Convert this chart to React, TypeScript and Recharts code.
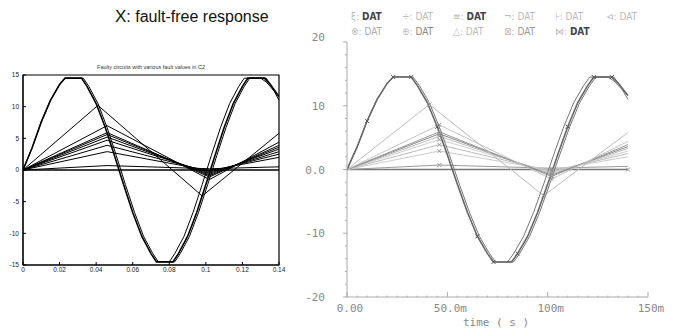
import { LineChart, Line, XAxis, YAxis, ReferenceArea } from 'recharts';

// fault-free response (clipped sine)
const freeTime = [0, 0.005, 0.01, 0.015, 0.02, 0.023, 0.032, 0.035, 0.04, 0.045, 0.05, 0.055, 0.06, 0.065, 0.07, 0.073, 0.082, 0.085, 0.09, 0.095, 0.1, 0.105, 0.11, 0.115, 0.12, 0.123, 0.132, 0.135, 0.14];
const freeValue = [0, 3.5, 7.6, 11.0, 13.5, 14.5, 14.5, 13.2, 10.5, 6.7, 2.3, -2.3, -6.7, -10.5, -13.2, -14.5, -14.5, -13.2, -10.5, -6.7, -2.3, 2.3, 6.7, 10.5, 13.2, 14.5, 14.5, 13.6, 11.6];

// near-identical faulty responses, slightly shifted
const shiftTime = [0, 0.005, 0.01, 0.015, 0.02, 0.023, 0.033, 0.036, 0.041, 0.046, 0.051, 0.056, 0.061, 0.066, 0.071, 0.074, 0.083, 0.086, 0.091, 0.096, 0.101, 0.106, 0.111, 0.116, 0.121, 0.124, 0.133, 0.136, 0.14];
const shiftValue = [0, 3.5, 7.6, 11.0, 13.5, 14.5, 14.5, 13.2, 10.5, 6.7, 2.3, -2.3, -6.7, -10.5, -13.2, -14.5, -14.5, -13.2, -10.5, -6.7, -2.3, 2.3, 6.7, 10.5, 13.2, 14.5, 14.5, 13.2, 11.0];
const earlyTime = [0.08, 0.083, 0.088, 0.093, 0.098, 0.103, 0.108, 0.113, 0.118, 0.121, 0.13, 0.133, 0.14];
const earlyValue = [-14.5, -13.2, -10.5, -6.7, -2.3, 2.3, 6.7, 10.5, 13.2, 14.5, 14.5, 13.9, 11.6];

// coarse faulty responses
const knotsA = [0, 0.041, 0.098, 0.14];
const knotsB = [0, 0.046, 0.102, 0.14];
const knotsC = [0, 0.14];
const fault1 = [0, 10.2, -4.1, 5.8];
const fault2 = [0, 7.0, -1.5, 4.4];
const fault3 = [0, 5.9, -1.1, 3.9];
const fault4 = [0, 5.6, -0.9, 3.6];
const fault5 = [0, 5.2, -0.7, 3.3];
const fault6 = [0, 4.7, -0.5, 2.9];
const fault7 = [0, 3.9, -0.3, 2.5];
const fault8 = [0, 2.9, -0.1, 2.0];
const fault9 = [0, 0.7, 0.2, 0.5];
const fault10 = [0, 0];

const xTicksL = [0, 0.02, 0.04, 0.06, 0.08, 0.1, 0.12, 0.14];
const yTicksL = [-15, -10, -5, 0, 5, 10, 15];
const xTicksR = [0, 0.005, 0.01, 0.015, 0.02, 0.025, 0.03, 0.035, 0.04, 0.045, 0.05, 0.055, 0.06, 0.065, 0.07, 0.075, 0.08, 0.085, 0.09, 0.095, 0.1, 0.105, 0.11, 0.115, 0.12, 0.125, 0.13, 0.135, 0.14, 0.145, 0.15];
const yTicksR = [-20, -18, -16, -14, -12, -10, -8, -6, -4, -2, 0, 2, 4, 6, 8, 10, 12, 14, 16, 18, 20];
const xLabelsR: Record<string, string> = { '0': '0.00', '0.05': '50.0m', '0.1': '100m', '0.15': '150m' };
const yLabelsR: Record<string, string> = { '20': '20', '10': '10', '0': '0.0', '-10': '-10', '-20': '-20' };

const legendRow1 = ['ξ', '÷', '≡', '¬', '⊦', '⊲'];
const legendRow2 = ['⊗', '⊕', '△', '⊠', '⋈'];
const legendShade1 = ['#444', '#bbb', '#444', '#bbb', '#bbb', '#bbb'];
const legendShade2 = ['#aaa', '#888', '#bbb', '#999', '#444'];

const toPoints = (t: number[], v: number[]) => t.map((x, i) => ({ x, y: v[i] }));

const series = [
  { id: 'free', data: toPoints(freeTime, freeValue), grey: '#666', w: 1.6 },
  { id: 'shift', data: toPoints(shiftTime, shiftValue), grey: '#777', w: 1 },
  { id: 'early', data: toPoints(earlyTime, earlyValue), grey: '#777', w: 1 },
  { id: 'f1', data: toPoints(knotsA, fault1), grey: '#bbb', w: 1 },
  { id: 'f2', data: toPoints(knotsB, fault2), grey: '#c4c4c4', w: 1 },
  { id: 'f3', data: toPoints(knotsB, fault3), grey: '#999', w: 1 },
  { id: 'f4', data: toPoints(knotsB, fault4), grey: '#888', w: 1 },
  { id: 'f5', data: toPoints(knotsB, fault5), grey: '#bbb', w: 1 },
  { id: 'f6', data: toPoints(knotsB, fault6), grey: '#ccc', w: 1 },
  { id: 'f7', data: toPoints(knotsB, fault7), grey: '#bbb', w: 1 },
  { id: 'f8', data: toPoints(knotsB, fault8), grey: '#ccc', w: 1 },
  { id: 'f9', data: toPoints(knotsB, fault9), grey: '#999', w: 1 },
  { id: 'f10', data: toPoints(knotsC, fault10), grey: '#777', w: 1.6 },
];

const sineMarks = [2, 5, 6, 9, 13, 15, 17, 22, 25, 26];

function markerDot(id: string, color: string) {
  return (props: any) => {
    const { cx, cy, index } = props;
    const show = id === 'free' ? sineMarks.includes(index) : id.startsWith('f') && (index === 1 || index === 2);
    if (!show || cx == null) return <g key={`${id}-${index}`} />;
    return (
      <path
        key={`${id}-${index}`}
        d={`M${cx - 2},${cy - 2}L${cx + 2},${cy + 2}M${cx - 2},${cy + 2}L${cx + 2},${cy - 2}`}
        stroke={color}
        strokeWidth={1}
        fill="none"
      />
    );
  };
}

function XTickR(props: any) {
  const { x, y, payload } = props;
  const label = xLabelsR[String(payload.value)];
  return (
    <g>
      <line x1={x} y1={y} x2={x} y2={y - (label ? 5 : 1.5)} stroke="#aaa" />
      {label && (
        <text x={x + 3} y={y + 15} textAnchor="middle" fontSize={11} fill="#888" fontFamily="DejaVu Sans Mono">
          {label}
        </text>
      )}
    </g>
  );
}

function YTickR(props: any) {
  const { x, y, payload } = props;
  const label = yLabelsR[String(payload.value)];
  return (
    <g>
      <line x1={x} y1={y} x2={x - (label ? 4 : 2)} y2={y} stroke="#aaa" />
      {label && (
        <text x={x - 22} y={payload.value === 20 ? y - 1 : y + 4} textAnchor="end" fontSize={11} fill="#888" fontFamily="DejaVu Sans Mono">
          {label}
        </text>
      )}
    </g>
  );
}

const tickFontL = { fontSize: 6.5, fill: '#222', fontFamily: 'Liberation Sans' };

export default function App() {
  return (
    <div style={{ position: 'fixed', left: 0, top: 0, width: 689, height: 335, background: '#fff', fontFamily: 'Liberation Sans' }}>
      <div style={{ position: 'absolute', left: 115, top: 7, fontSize: 16, color: '#111', whiteSpace: 'nowrap' }}>
        <span style={{ fontSize: 17 }}>X</span>: fault-free response
      </div>

      {/* symbol legend of the simulator plot */}
      <div style={{ position: 'absolute', left: 351, top: 9, fontSize: 10, fontFamily: 'DejaVu Sans Condensed', lineHeight: '15px', whiteSpace: 'nowrap' }}>
        <div style={{ display: 'flex' }}>
          {legendRow1.map((s, i) => (
            <span key={i} style={{ width: 51 }}>
              <span style={{ color: '#bbb' }}>{s}: </span>
              <span style={{ color: legendShade1[i], fontWeight: legendShade1[i] === '#444' ? 'bold' : 'normal' }}>DAT</span>
            </span>
          ))}
        </div>
        <div style={{ display: 'flex' }}>
          {legendRow2.map((s, i) => (
            <span key={i} style={{ width: 51 }}>
              <span style={{ color: '#bbb' }}>{s}: </span>
              <span style={{ color: legendShade2[i], fontWeight: legendShade2[i] === '#444' ? 'bold' : 'normal' }}>DAT</span>
            </span>
          ))}
        </div>
      </div>

      {/* left: matlab-style plot */}
      <div style={{ position: 'absolute', left: 0, top: 0 }}>
        <div style={{ position: 'absolute', left: 23, width: 256, top: 64, textAlign: 'center', fontSize: 5.5, color: '#333', whiteSpace: 'nowrap' }}>
          Faulty circuits with various fault values in C2
        </div>
        <LineChart width={290} height={290} margin={{ top: 75, right: 11, left: 3, bottom: 5 }}>
          <XAxis dataKey="x" type="number" domain={[0, 0.14]} ticks={xTicksL} allowDataOverflow
            tick={tickFontL} tickSize={-3} tickMargin={5} height={20} stroke="#000" interval={0} />
          <YAxis type="number" domain={[-15, 15]} ticks={yTicksL} allowDataOverflow
            tick={tickFontL} tickSize={-3} tickMargin={7} width={20} stroke="#000" interval={0} />
          <ReferenceArea x1={0} x2={0.14} y1={-15} y2={15} fill="none" stroke="#000" strokeWidth={1.2} />
          {series.map((s) => (
            <Line key={s.id} data={s.data} dataKey="y" type="linear" stroke="#000" strokeWidth={s.w}
              dot={false} isAnimationActive={false} />
          ))}
        </LineChart>
      </div>

      {/* right: simulator plot */}
      <div style={{ position: 'absolute', left: 290, top: 0 }}>
        <LineChart width={399} height={335} margin={{ top: 42, right: 41, left: 17, bottom: 8 }}>
          <XAxis dataKey="x" type="number" domain={[0, 0.15]} ticks={xTicksR} allowDataOverflow
            tick={<XTickR />} tickLine={false} tickSize={0} tickMargin={0} height={30} stroke="#aaa" interval={0} />
          <YAxis type="number" domain={[-20, 20]} ticks={yTicksR} allowDataOverflow
            tick={<YTickR />} tickLine={false} tickSize={0} tickMargin={0} width={40} stroke="#aaa" interval={0} />
          {series.slice().reverse().map((s) => (
            <Line key={s.id} data={s.data} dataKey="y" type="linear" stroke={s.grey} strokeWidth={s.w}
              dot={markerDot(s.id, s.grey === '#666' ? '#555' : '#999')} isAnimationActive={false} />
          ))}
        </LineChart>
        <div style={{ position: 'absolute', left: 173, top: 317, fontSize: 11, lineHeight: '11px', color: '#888', fontFamily: 'DejaVu Sans Mono', whiteSpace: 'nowrap' }}>
          time ( s )
        </div>
      </div>
    </div>
  );
}
